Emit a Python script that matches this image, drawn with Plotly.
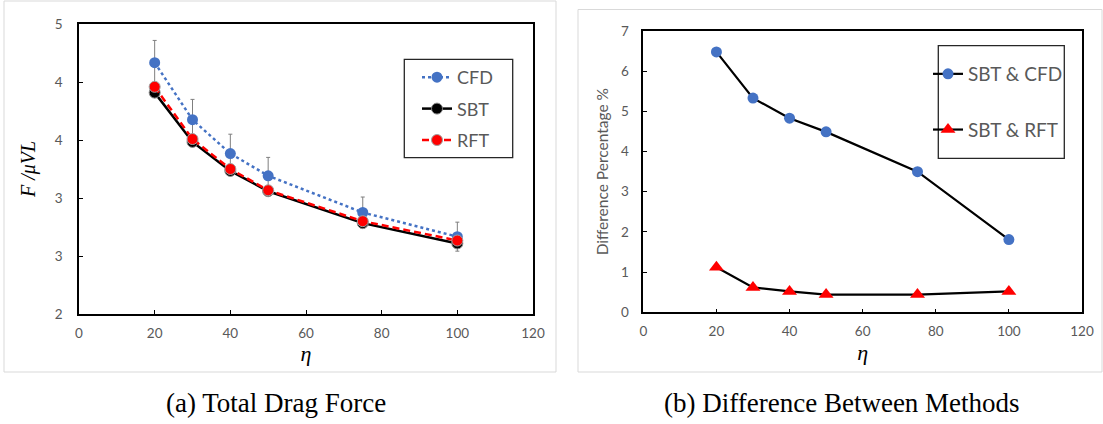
import plotly.graph_objects as go

# ---------------- data ----------------
eta = [20, 30, 40, 50, 75, 100]
cfd = [4.60, 4.01, 3.66, 3.43, 3.05, 2.80]
cfd_err = [0.23, 0.21, 0.20, 0.19, 0.16, 0.15]
sbt = [4.29, 3.78, 3.48, 3.27, 2.94, 2.73]
rft = [4.35, 3.81, 3.50, 3.28, 2.96, 2.76]

diff_sbt_cfd = [6.48, 5.33, 4.83, 4.49, 3.50, 1.81]
diff_sbt_rft = [1.12, 0.62, 0.52, 0.44, 0.44, 0.52]

left_ytickvals = [2, 2.6, 3.2, 3.8, 4.4, 5]
left_yticktext = ["2", "3", "3", "4", "4", "5"]
x_tickvals = [0, 20, 40, 60, 80, 100, 120]

captions = ["(a) Total Drag Force", "(b) Difference Between Methods"]

# ---------------- layout helpers ----------------
W, H = 1103, 424
def px(x):
    return x / W
def py(y):
    return 1 - y / H

BLUE = "#4472C4"
RED = "#FF0000"
GRAY_TXT = "#595959"
SANS = "Lato, 'Open Sans', sans-serif"
SERIF = "'Liberation Serif', 'Times New Roman', serif"

fig = go.Figure()

# left panel traces
fig.add_trace(go.Scatter(
    x=eta, y=cfd, name="CFD", mode="lines+markers",
    line=dict(color=BLUE, width=2.5, dash="dot"),
    marker=dict(color=BLUE, size=11, line=dict(width=0)),
    error_y=dict(type="data", array=cfd_err, visible=True,
                 color="#7f7f7f", thickness=1, width=2),
    xaxis="x", yaxis="y", legend="legend", legendgroup="a1"))
fig.add_trace(go.Scatter(
    x=eta, y=sbt, name="SBT", mode="lines+markers",
    line=dict(color="black", width=2.5),
    marker=dict(color="black", size=11, line=dict(width=1, color="#8c8c8c")),
    xaxis="x", yaxis="y", legend="legend", legendgroup="a2"))
fig.add_trace(go.Scatter(
    x=eta, y=rft, name="RFT", mode="lines+markers",
    line=dict(color=RED, width=2.5, dash="7px,4px"),
    marker=dict(color=RED, size=11, line=dict(width=1, color="#a0a0a0")),
    xaxis="x", yaxis="y", legend="legend", legendgroup="a3"))

# right panel traces
fig.add_trace(go.Scatter(
    x=eta, y=diff_sbt_cfd, name="SBT & CFD", mode="lines+markers",
    line=dict(color="black", width=2.2),
    marker=dict(color=BLUE, size=11, symbol="circle"),
    xaxis="x2", yaxis="y2", legend="legend2", legendgroup="b1"))
fig.add_trace(go.Scatter(
    x=eta, y=diff_sbt_rft, name="SBT & RFT", mode="lines+markers",
    line=dict(color="black", width=2.2),
    marker=dict(color=RED, size=13, symbol="triangle-up"),
    xaxis="x2", yaxis="y2", legend="legend2", legendgroup="b2"))

axis_common = dict(
    showline=True, linecolor="black", linewidth=1.5, mirror=True,
    ticks="inside", ticklen=4, tickwidth=1, tickcolor="black",
    showgrid=False, zeroline=False,
    tickfont=dict(family=SANS, size=13.5, color=GRAY_TXT),
    automargin=False,
)

fig.update_layout(
    width=W, height=H,
    margin=dict(l=0, r=0, t=0, b=0),
    paper_bgcolor="white", plot_bgcolor="white",
    showlegend=True,
    xaxis=dict(axis_common, domain=[px(79), px(533)], range=[0, 120],
               tickvals=x_tickvals, ticklabelstandoff=6,
               title=dict(text="<i>η</i>", font=dict(family=SERIF, size=22, color="black"), standoff=6),
               anchor="y"),
    yaxis=dict(axis_common, domain=[py(314), py(24)], range=[2, 5],
               tickvals=left_ytickvals, ticktext=left_yticktext, ticklabelstandoff=12,
               title=dict(text="<i>F /μVL</i>", font=dict(family=SERIF, size=20, color="black"), standoff=14),
               anchor="x"),
    xaxis2=dict(axis_common, domain=[px(643.3), px(1082)], range=[0, 120],
                tickvals=x_tickvals, ticklabelstandoff=6,
                title=dict(text="<i>η</i>", font=dict(family=SERIF, size=22, color="black"), standoff=6),
                anchor="y2"),
    yaxis2=dict(axis_common, domain=[py(312.3), py(31)], range=[0, 7],
                dtick=1, ticklabelstandoff=10,
                title=dict(text="Difference Percentage %", font=dict(family=SANS, size=15.5, color=GRAY_TXT), standoff=9),
                anchor="x2"),
    legend=dict(x=px(417), y=py(59), xanchor="left", yanchor="top",
                bgcolor="rgba(0,0,0,0)", borderwidth=0,
                font=dict(family=SANS, size=18, color=GRAY_TXT),
                tracegroupgap=5, itemwidth=30),
    legend2=dict(x=px(928), y=py(55), xanchor="left", yanchor="top",
                 bgcolor="rgba(0,0,0,0)", borderwidth=0,
                 font=dict(family=SANS, size=19, color=GRAY_TXT),
                 tracegroupgap=28, itemwidth=30),
)

shapes = [
    # panel frames
    dict(type="rect", xref="paper", yref="paper", x0=px(4), x1=px(556), y0=py(372), y1=py(1),
         line=dict(color="#d9d9d9", width=1), fillcolor="rgba(0,0,0,0)", layer="below"),
    dict(type="rect", xref="paper", yref="paper", x0=px(578), x1=px(1102), y0=py(372), y1=py(9.5),
         line=dict(color="#d9d9d9", width=1), fillcolor="rgba(0,0,0,0)", layer="below"),
    # legend boxes
    dict(type="rect", xref="paper", yref="paper", x0=px(404.3), x1=px(512.7), y0=py(157.7), y1=py(59.3),
         line=dict(color="#262626", width=1.3), fillcolor="white", layer="below"),
    dict(type="rect", xref="paper", yref="paper", x0=px(938.3), x1=px(1064.3), y0=py(158.3), y1=py(45.7),
         line=dict(color="#262626", width=1.3), fillcolor="white", layer="below"),
]
fig.update_layout(shapes=shapes)

fig.add_annotation(text=captions[0], x=px(275.5), y=py(403), xref="paper", yref="paper",
                   showarrow=False, xanchor="center", yanchor="middle",
                   font=dict(family=SERIF, size=27, color="black"))
fig.add_annotation(text=captions[1], x=px(842), y=py(403), xref="paper", yref="paper",
                   showarrow=False, xanchor="center", yanchor="middle",
                   font=dict(family=SERIF, size=27, color="black"))

fig.write_html("out.html")
